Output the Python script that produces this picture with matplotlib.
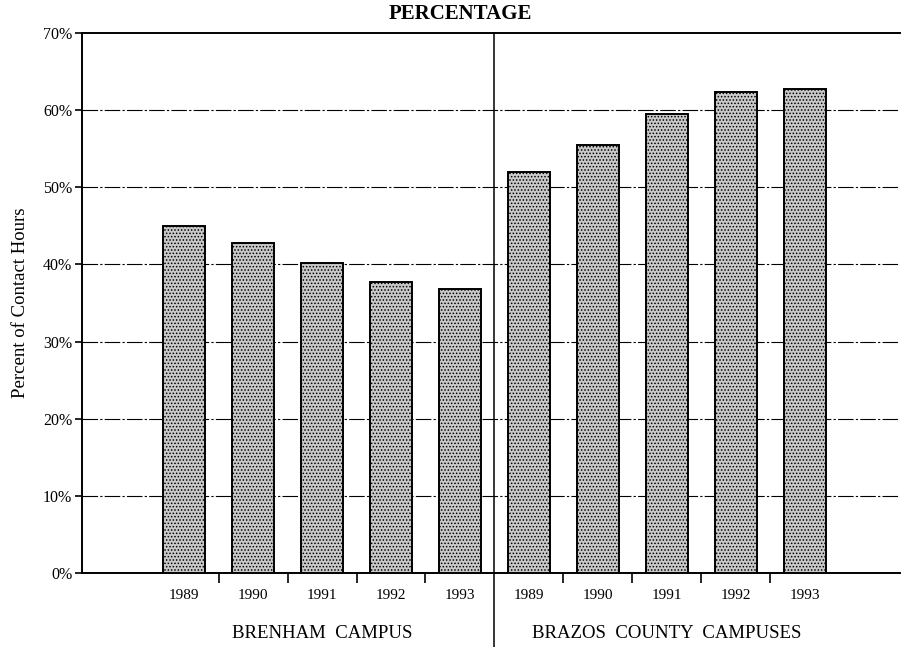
import matplotlib
matplotlib.use("Agg")
import matplotlib.pyplot as plt

years = ["1989", "1990", "1991", "1992", "1993"]
groups = ["BRENHAM  CAMPUS", "BRAZOS  COUNTY  CAMPUSES"]
brenham = [45.0, 42.8, 40.2, 37.7, 36.8]
brazos = [52.0, 55.5, 59.5, 62.3, 62.8]
yticks = [0, 10, 20, 30, 40, 50, 60, 70]
ytick_labels = ["0%", "10%", "20%", "30%", "40%", "50%", "60%", "70%"]

plt.rcParams['font.family'] = ['Liberation Serif', 'DejaVu Serif']
plt.rcParams['hatch.linewidth'] = 0.7
plt.rcParams['hatch.color'] = '#444444'

fig = plt.figure(figsize=(9.05, 6.47), dpi=100)
ax = fig.add_axes([82/905, 1-573/647, (900-82)/905, (573-33)/647])

values = brenham + brazos
xs = list(range(len(values)))
labels = years + years

for y in yticks[1:-1]:
    ax.axhline(y, color='black', lw=0.8, linestyle=(0, (14, 2, 2, 2)), zorder=1)

ax.bar(xs, values, width=0.61, facecolor='#c9c9c9', edgecolor='black',
       linewidth=1.4, hatch='.....', zorder=3)

ax.set_xlim(-1.48, 10.38)
ax.set_ylim(0, 70)
ax.set_yticks(yticks)
ax.set_yticklabels(ytick_labels, fontsize=11.5)
ax.tick_params(axis='y', direction='out', length=5, width=1.2, pad=2)

# tick marks between bars
ax.set_xticks([0.5, 1.5, 2.5, 3.5, 5.5, 6.5, 7.5, 8.5])
ax.set_xticklabels([])
ax.tick_params(axis='x', direction='out', length=7, width=1.2)

for spine in ['left', 'bottom', 'top']:
    ax.spines[spine].set_linewidth(1.4)
ax.spines['right'].set_visible(False)

# year labels
for x, lab in zip(xs, labels):
    ax.text(x, -2.1, lab, ha='center', va='top', fontsize=11,
            transform=ax.transData, clip_on=False)

# group labels
ax.text(2, -6.8, groups[0], ha='center', va='top', fontsize=13.5, clip_on=False)
ax.text(7, -6.8, groups[1], ha='center', va='top', fontsize=13.5, clip_on=False)

# divider line
ax.plot([4.5, 4.5], [-9.6, 70], color='black', lw=1.1, clip_on=False, zorder=4)

ax.set_ylabel("Percent of Contact Hours", fontsize=13.5, labelpad=10)
fig.text(460/905, 1-14/647, "PERCENTAGE", ha='center', va='center',
         fontsize=15, fontweight='bold')

fig.savefig("out.png", dpi=100)
